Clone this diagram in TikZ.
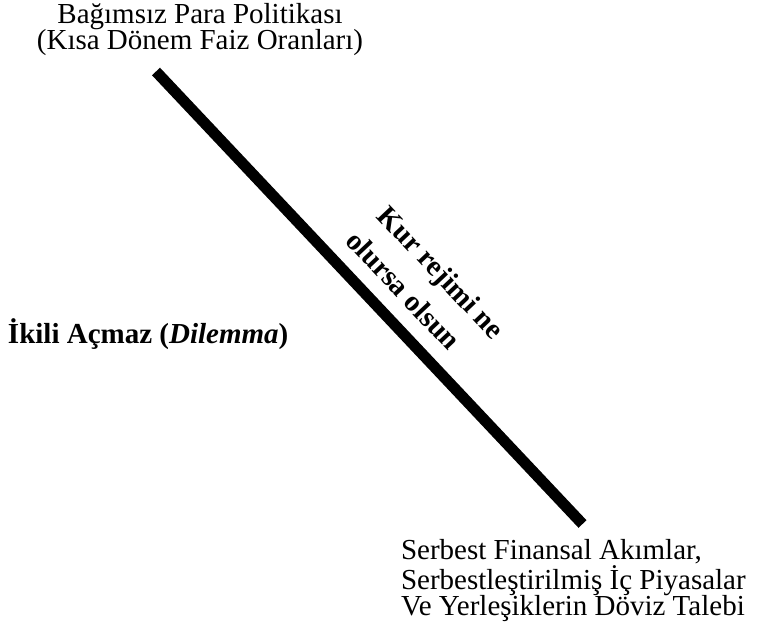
\documentclass[tikz,border=0pt]{standalone}
\usepackage{fontspec}
\setmainfont{Liberation Serif}
\tikzset{
  lbl/.style={inner sep=0pt, outer sep=0pt, font=\fontsize{29}{26.5}\selectfont},
  rlbl/.style={inner sep=0pt, outer sep=0pt, font=\fontsize{29}{26.5}\selectfont\bfseries, rotate=-46.7, anchor=base},
  bar/.style={line width=11pt, line cap=butt, black}
}
\begin{document}
\begin{tikzpicture}[x=1pt,y=1pt]
\useasboundingbox (0,0) rectangle (764,-639);
\coordinate (T) at (156,-71.5);
\coordinate (B) at (582.5,-524);
\draw[bar] (T) -- (B);
\node[lbl, align=center, anchor=north] (top) at (200,-3) {Bağımsız Para Politikası\\(Kısa Dönem Faiz Oranları)};
\node[lbl, align=left, anchor=north west] (bot) at (401,-539.5) {Serbest Finansal Akımlar,\\Serbestleştirilmiş İç Piyasalar\\Ve Yerleşiklerin Döviz Talebi};
\node[lbl, anchor=base west, font=\fontsize{29}{26.5}\selectfont\bfseries] (dil) at (8,-344) {İkili Açmaz (\textit{Dilemma})};
\node[rlbl] (kur) at (434.3,-279) {Kur rejimi ne};
\node[rlbl] (ols) at (396.5,-296.9) {olursa olsun};
\end{tikzpicture}
\end{document}
